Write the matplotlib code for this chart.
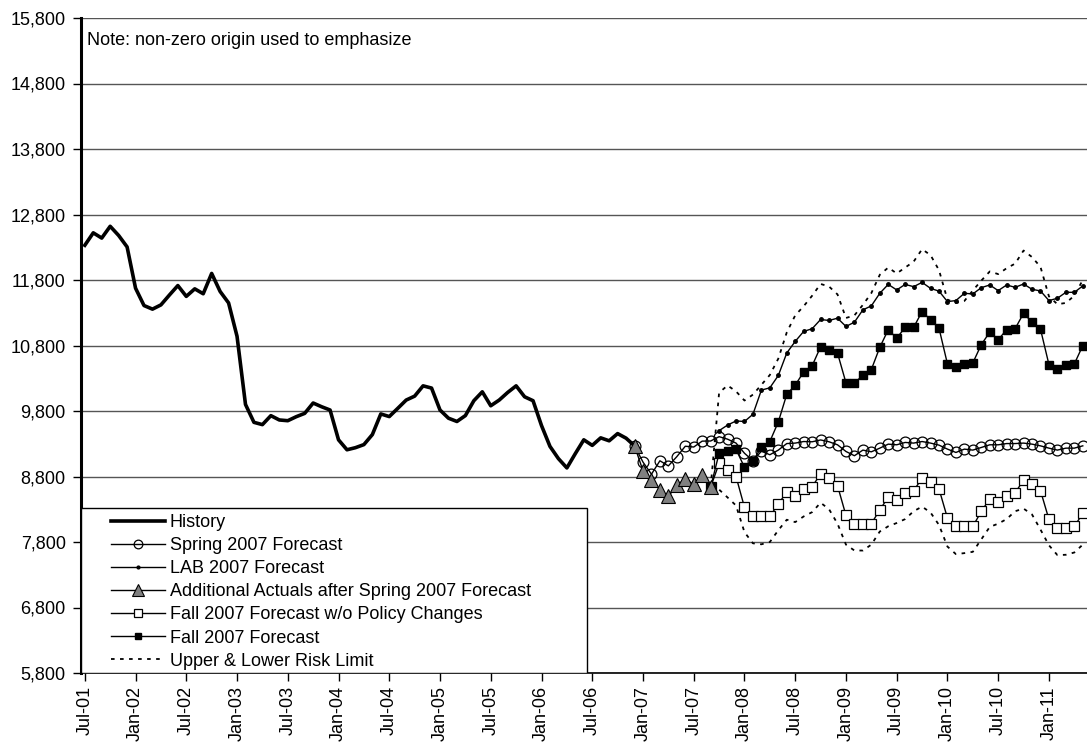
import numpy as np
import matplotlib
matplotlib.use("Agg")
import matplotlib.pyplot as plt
from matplotlib.patches import Rectangle
from matplotlib.ticker import FuncFormatter

plt.rcParams['font.family'] = ['Liberation Sans', 'DejaVu Sans']

# monthly index: 0 = Jul-01
tick_labels = ['Jul-01', 'Jan-02', 'Jul-02', 'Jan-03', 'Jul-03', 'Jan-04', 'Jul-04',
               'Jan-05', 'Jul-05', 'Jan-06', 'Jul-06', 'Jan-07', 'Jul-07', 'Jan-08',
               'Jul-08', 'Jan-09', 'Jul-09', 'Jan-10', 'Jul-10', 'Jan-11']

history = [12330, 12520, 12440, 12620, 12480, 12305, 11675, 11410, 11355, 11420,
           11570, 11715, 11550, 11665, 11590, 11900, 11625, 11450, 10940, 9900,
           9627, 9592, 9729, 9663, 9652, 9713, 9764, 9922, 9865, 9815,
           9360, 9208, 9240, 9287, 9440, 9755, 9715, 9840, 9967, 10027,
           10184, 10150, 9815, 9690, 9640, 9730, 9957, 10093, 9880, 9967,
           10083, 10184, 10017, 9957, 9578, 9260, 9073, 8931, 9150, 9360,
           9275, 9390, 9345, 9455, 9385, 9268]

actuals_start = 65
actuals = [9268, 8888, 8750, 8598, 8497, 8664, 8765, 8679, 8816, 8638]

spring_start = 65
spring = [9268, 9020, 8835, 9040, 8962, 9103, 9262, 9250, 9340, 9342,
          9408, 9370, 9310, 9155, 9040, 9187, 9132, 9203, 9303, 9310,
          9334, 9330, 9358, 9330, 9284, 9182, 9117, 9203, 9177, 9233,
          9294, 9284, 9320, 9310, 9334, 9310, 9279, 9218, 9167, 9218,
          9203, 9243, 9284, 9284, 9303, 9303, 9310, 9294, 9268, 9233,
          9203, 9233, 9233, 9268]

lab_start = 75
lab = [9500, 9585, 9648, 9640, 9750, 10119, 10154, 10342, 10685, 10863,
       11015, 11056, 11197, 11182, 11217, 11091, 11156, 11344, 11405, 11597,
       11733, 11648, 11733, 11698, 11764, 11672, 11630, 11470, 11486, 11597,
       11587, 11683, 11724, 11638, 11724, 11688, 11739, 11658, 11633, 11486,
       11521, 11612, 11612, 11709]

fall_start = 74
fall = [8638, 9155, 9195, 9215, 8940, 9036, 9250, 9334, 9633, 10054,
        10195, 10397, 10490, 10780, 10732, 10685, 10230, 10230, 10342, 10433,
        10772, 11041, 10913, 11076, 11076, 11319, 11192, 11065, 10518, 10468,
        10518, 10534, 10813, 11004, 10889, 11041, 11056, 11293, 11156, 11050,
        10509, 10448, 10499, 10518, 10798]

fall_nopol = [8638, 9000, 8900, 8800, 8330, 8190, 8190, 8190, 8383, 8560,
              8509, 8611, 8646, 8838, 8770, 8661, 8206, 8079, 8079, 8079,
              8292, 8483, 8444, 8550, 8585, 8772, 8712, 8611, 8165, 8039,
              8039, 8039, 8266, 8459, 8408, 8509, 8550, 8747, 8687, 8585,
              8145, 8018, 8018, 8039, 8236]

upper = [8638, 10080, 10190, 10100, 9960, 10050, 10200, 10350, 10600, 11000,
         11260, 11400, 11560, 11740, 11700, 11580, 11220, 11260, 11420, 11600,
         11880, 11990, 11900, 11990, 12080, 12270, 12180, 11950, 11500, 11450,
         11480, 11640, 11790, 11930, 11890, 11980, 12050, 12250, 12150, 12000,
         11550, 11430, 11450, 11560, 11800]

lower = [8638, 8600, 8480, 8357, 7950, 7780, 7765, 7800, 7980, 8140,
         8104, 8190, 8256, 8400, 8300, 8080, 7760, 7670, 7670, 7760,
         7960, 8040, 8090, 8150, 8270, 8340, 8250, 8060, 7730, 7615,
         7630, 7650, 7840, 8030, 8080, 8150, 8270, 8310, 8220, 7990,
         7750, 7600, 7605, 7640, 7760]


def idx(start, vals):
    return np.arange(start, start + len(vals))


fs = 13

fig = plt.figure(figsize=(10.87, 7.5), dpi=100)
ax = fig.add_axes([81 / 1087, 77 / 750, 1006 / 1087, 655 / 750])

ax.set_ylim(5800, 15800)
ax.set_yticks(np.arange(5800, 15801, 1000))
ax.yaxis.set_major_formatter(FuncFormatter(lambda v, p: f'{int(v):,}'))
ax.set_xlim(-0.45, 118.5)
ax.set_xticks(np.arange(0, 6 * len(tick_labels), 6))
ax.set_xticklabels(tick_labels, rotation=90)
ax.grid(axis='y', color='#555555', lw=1.0)
ax.set_axisbelow(True)
ax.tick_params(axis='both', direction='out', length=6, width=1, labelsize=fs)
ax.tick_params(axis='y', pad=5)

for s in ['top', 'right']:
    ax.spines[s].set_visible(False)
ax.spines['left'].set_linewidth(2.2)
ax.spines['bottom'].set_linewidth(1.2)

ax.plot(idx(0, history), history, color='black', lw=2.6, label='History', zorder=3)
ax.plot(idx(spring_start, spring), spring, color='black', lw=1.0, marker='o', ms=7.8,
        mfc='none', mec='black', mew=0.9, label='Spring 2007 Forecast', zorder=3)
ax.plot(idx(lab_start, lab), lab, color='black', lw=1.0, marker='o', ms=2.5,
        mfc='black', mec='black', label='LAB 2007 Forecast', zorder=3)
ax.plot(idx(actuals_start, actuals), actuals, color='black', lw=1.0, marker='^', ms=10.5,
        mfc='#808080', mec='black', mew=0.8,
        label='Additional Actuals after Spring 2007 Forecast', zorder=5)
ax.plot(idx(fall_start, fall_nopol), fall_nopol, color='black', lw=1.0, marker='s', ms=7.8,
        mfc='white', mec='black', mew=0.9, label='Fall 2007 Forecast w/o Policy Changes', zorder=3)
ax.plot(idx(fall_start, fall), fall, color='black', lw=1.0, marker='s', ms=5.5,
        mfc='black', mec='black', label='Fall 2007 Forecast', zorder=3)
ax.plot(idx(fall_start, upper), upper, color='black', lw=1.3, ls=(0, (2, 3)),
        label='Upper & Lower Risk Limit', zorder=3)
ax.plot(idx(fall_start, lower), lower, color='black', lw=1.3, ls=(0, (2, 3)), zorder=3)

ax.text(6 / 1006, 0.965, 'Note: non-zero origin used to emphasize', transform=ax.transAxes,
        fontsize=fs, va='center', ha='left')

# legend box
box = Rectangle((0, 0), 0.503, 0.252, transform=ax.transAxes, facecolor='white',
                edgecolor='black', lw=1.0, zorder=6)
ax.add_patch(box)
leg = ax.legend(loc='upper left', bbox_to_anchor=(30 / 1006, 0.243), frameon=False,
                fontsize=fs, handlelength=3.0, handletextpad=0.25, labelspacing=0.34,
                borderpad=0, borderaxespad=0, markerscale=0.8)
leg.set_zorder(7)

fig.savefig('out.png', dpi=100)
